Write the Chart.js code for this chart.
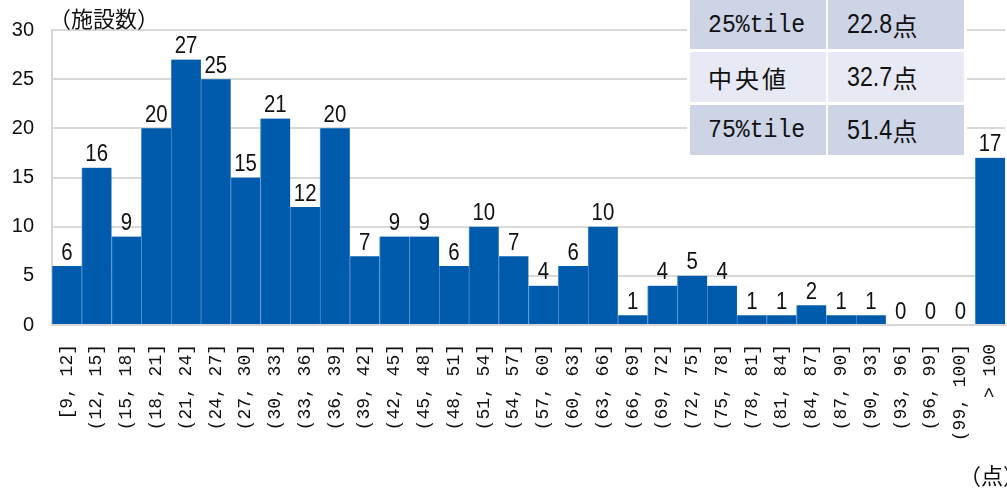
<!DOCTYPE html>
<html lang="ja">
<head>
<meta charset="utf-8">
<title>施設数分布</title>
<script src="https://cdn.jsdelivr.net/npm/chart.js@4.4.1/dist/chart.umd.min.js"></script>
<style>
  body { margin: 0; background: #fff; }
  #wrap { position: relative; width: 1007px; height: 491px; overflow: hidden; }
  .note { position: absolute; font-family: "Noto Sans CJK JP", sans-serif; font-size: 21px; color: #111; line-height: 1; white-space: nowrap; }
  #stats { position: absolute; left: 687px; top: 0; width: 280px; height: 158px; background: #fff; }
  .cell { position: absolute; box-sizing: border-box; display: flex; align-items: center; color: #111; white-space: nowrap; }
  .dark { background: #cdd4e6; }
  .light { background: #e7eaf4; }
  .lbl { padding-left: 18px; }
  .lbl .mono { display: inline-block; font-family: "Liberation Mono", monospace; font-size: 26px; transform: scaleX(0.89); transform-origin: left center; }
  .lbl.kanji { font-family: "Noto Sans CJK JP", sans-serif; font-size: 24px; letter-spacing: 3px; }
  .val { padding-left: 19px; }
  .val .num { display: inline-block; font-family: "Liberation Sans", Arial, sans-serif; font-size: 27px; transform: scaleX(0.86); transform-origin: left center; margin-right: -7px; }
  .val .unit { font-family: "Noto Sans CJK JP", sans-serif; font-size: 25px; }
</style>
</head>
<body>
<div id="wrap">
  <canvas id="histChart"></canvas>
  <div class="note" style="left:49px; top:6px; font-size:22px;">（施設数）</div>
  <div class="note" style="left:959px; top:463px; font-size:22px;">（点）</div>
  <div id="stats">
    <div class="cell dark lbl" style="left:3px; top:0; width:136px; height:49px;"><span class="mono">25%tile</span></div>
    <div class="cell dark val" style="left:141px; top:0; width:136px; height:49px;"><span class="num">22.8</span><span class="unit">点</span></div>
    <div class="cell light lbl kanji" style="left:3px; top:52px; width:136px; height:50px;">中央値</div>
    <div class="cell light val" style="left:141px; top:52px; width:136px; height:50px;"><span class="num">32.7</span><span class="unit">点</span></div>
    <div class="cell dark lbl" style="left:3px; top:105px; width:136px; height:50px;"><span class="mono">75%tile</span></div>
    <div class="cell dark val" style="left:141px; top:105px; width:136px; height:50px;"><span class="num">51.4</span><span class="unit">点</span></div>
  </div>
</div>
<script>
// score bins and facility counts
const scoreBins = [
  '[9, 12]', '(12, 15]', '(15, 18]', '(18, 21]', '(21, 24]', '(24, 27]', '(27, 30]', '(30, 33]',
  '(33, 36]', '(36, 39]', '(39, 42]', '(42, 45]', '(45, 48]', '(48, 51]', '(51, 54]', '(54, 57]',
  '(57, 60]', '(60, 63]', '(63, 66]', '(66, 69]', '(69, 72]', '(72, 75]', '(75, 78]', '(78, 81]',
  '(81, 84]', '(84, 87]', '(87, 90]', '(90, 93]', '(93, 96]', '(96, 99]', '(99, 100]', '> 100'
];
const facilityCounts = [
  6, 16, 9, 20, 27, 25, 15, 21,
  12, 20, 7, 9, 9, 6, 10, 7,
  4, 6, 10, 1, 4, 5, 4, 1,
  1, 2, 1, 1, 0, 0, 0, 17
];
const countTicks = [0, 5, 10, 15, 20, 25, 30];

// Helper: write each bar's count just above it (narrowed Arial)
const barValueLabels = {
  id: 'barValueLabels',
  afterDatasetsDraw(chart) {
    const ctx = chart.ctx;
    const meta = chart.getDatasetMeta(0);
    ctx.save();
    ctx.font = '24px "Liberation Sans", Arial, sans-serif';
    ctx.fillStyle = '#111';
    ctx.textAlign = 'center';
    ctx.textBaseline = 'bottom';
    meta.data.forEach((bar, i) => {
      ctx.save();
      ctx.translate(bar.x, bar.y - 1);
      ctx.scale(0.85, 1);
      ctx.fillText(String(facilityCounts[i]), 0, 0);
      ctx.restore();
    });
    ctx.restore();
  }
};

new Chart(document.getElementById('histChart'), {
  type: 'bar',
  data: {
    labels: scoreBins,
    datasets: [{
      data: facilityCounts,
      backgroundColor: '#005bac',
      borderColor: '#4f8bd0',
      borderWidth: { left: 1, top: 0, right: 0, bottom: 0 },
      borderSkipped: false,
      categoryPercentage: 1.0,
      barPercentage: 1.0
    }]
  },
  options: {
    responsive: true,
    maintainAspectRatio: false,
    animation: false,
    layout: { padding: { top: 30, right: 2, left: 0, bottom: 0 } },
    plugins: {
      legend: { display: false },
      tooltip: { enabled: false }
    },
    scales: {
      x: {
        grid: { display: false, drawTicks: false },
        border: { display: true, color: '#d6d6d6', width: 2 },
        ticks: {
          autoSkip: false,
          minRotation: 90,
          maxRotation: 90,
          padding: 19,
          color: '#111',
          font: { family: '"Liberation Mono", monospace', size: 18 }
        },
        afterFit: (scale) => {
          scale.height = 166;
          // rotated labels must not squeeze the plot sideways
          scale.paddingLeft = 0;
          scale.paddingRight = 0;
        }
      },
      y: {
        min: 0,
        max: 30,
        grid: { color: '#d9d9d9', lineWidth: 2, drawTicks: false },
        border: { display: true, color: '#d6d6d6', width: 2 },
        afterBuildTicks: (scale) => { scale.ticks = countTicks.map(v => ({ value: v })); },
        ticks: {
          padding: 18,
          color: '#111',
          font: { family: '"Liberation Sans", Arial, sans-serif', size: 20 }
        },
        afterFit: (scale) => { scale.width = 52; }
      }
    }
  },
  plugins: [barValueLabels]
});
</script>
</body>
</html>
